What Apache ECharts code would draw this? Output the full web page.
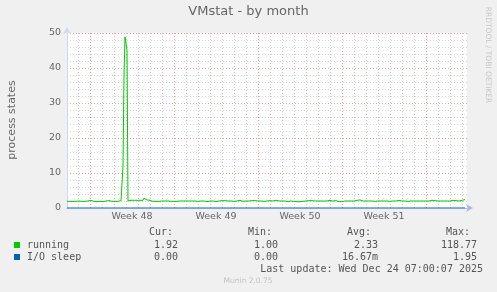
<!DOCTYPE html>
<html>
<head>
<meta charset="utf-8">
<script src="https://cdn.jsdelivr.net/npm/echarts@6/dist/echarts.min.js"></script>
<style>
html,body{margin:0;padding:0;background:#f0f0f0;}
#c{width:497px;height:292px;}
</style>
</head>
<body>
<div id="c"></div>
<script>
// ---- data ----
const startHour = -46;   // hours relative to Mon Nov 24 00:00 (start of Week 48)
const endHour = 754;
const stepHours = 2;
const weekLabels = ['Week 48', 'Week 49', 'Week 50', 'Week 51'];
const yTicks = [0, 10, 20, 30, 40, 50];
const running = [
1.9,1.8,2.0,1.9,1.9,2.1,1.9,1.8,2.0,1.9,1.9,1.9,2.0,1.9,1.8,1.9,2.2,1.9,1.9,1.8,
1.9,2.0,1.9,1.9,2.2,1.9,1.8,1.9,1.9,2.0,1.8,1.9,1.9,1.9,2.1,1.9,1.8,1.9,1.9,2.0,
1.9,1.9,2.1,1.9,1.8,1.9,2.0,1.9,1.9,2.2,1.9,1.9,2.0,1.9,2.1,2.0,12,38,48.9,47,
45,2.0,2.1,2.2,2.2,2.2,2.3,2.2,2.2,2.3,2.2,2.2,2.3,2.2,2.2,2.3,2.2,2.8,2.4,2.6,
2.3,2.2,2.5,2.2,2.1,1.8,1.9,2.0,2.0,1.9,2.0,2.2,1.9,1.9,2.0,2.0,1.9,1.9,2.0,1.9,
2.0,2.0,1.9,2.1,1.9,2.0,2.0,1.9,2.2,2.0,1.9,1.9,2.0,2.0,1.9,2.0,2.0,1.9,2.0,2.0,
1.9,2.0,2.0,1.9,2.0,2.0,1.9,1.9,2.0,2.1,2.0,1.9,1.9,1.9,2.0,2.0,1.9,2.0,2.1,2.0,
1.8,2.0,2.1,2.0,2.1,2.0,2.0,2.1,2.0,1.8,1.9,2.1,2.0,2.0,2.2,2.1,2.4,2.0,2.1,2.0,
2.0,2.0,2.0,2.1,2.0,2.0,2.0,1.9,2.1,2.0,2.0,2.1,2.0,2.2,2.0,2.0,1.9,1.9,2.1,2.0,
2.0,2.1,2.0,2.0,1.9,2.1,2.0,2.0,2.1,2.0,2.1,2.0,2.0,2.1,2.0,2.1,2.0,1.9,2.0,2.1,
2.0,1.9,2.0,2.1,1.8,1.9,2.0,2.0,1.9,2.2,2.0,1.9,2.0,2.1,2.4,2.0,2.0,1.9,2.0,1.9,
1.8,1.8,1.9,1.9,2.0,1.9,1.8,1.9,1.9,1.9,1.8,2.0,1.9,1.8,1.8,1.9,1.9,2.0,2.0,2.0,
2.0,2.0,2.1,2.0,2.0,2.1,2.0,2.0,2.0,2.1,2.0,2.0,2.2,2.0,2.0,2.1,2.0,2.0,2.1,2.0,
2.0,2.1,2.0,2.2,2.0,1.9,2.0,1.9,2.0,2.1,2.0,2.0,1.8,2.0,1.9,1.8,2.2,2.3,2.0,1.9,
2.0,2.0,1.9,1.9,2.0,1.8,2.1,2.0,2.0,2.1,2.2,2.1,2.0,2.3,2.1,2.0,2.0,2.2,2.1,2.0,
2.0,1.9,2.0,2.0,2.1,2.0,2.1,2.0,1.9,2.0,2.0,2.0,2.0,1.9,2.0,2.0,2.1,2.0,2.0,1.9,
2.0,2.0,1.9,1.9,2.0,2.0,2.0,2.1,2.0,2.0,2.0,2.1,2.2,2.0,2.0,2.0,2.0,2.1,2.0,2.0,
2.0,1.9,1.9,2.0,2.0,1.9,2.0,2.0,2.0,1.9,2.0,2.0,2.1,2.0,2.0,1.9,2.0,2.0,1.9,2.0,
2.0,2.1,2.0,1.9,2.0,2.2,2.0,2.0,2.1,2.0,2.3,2.0,2.0,2.1,2.0,2.1,1.9,2.0,2.0,2.1,
2.0,2.0,2.3,2.0,2.1,2.0,2.2,2.0,2.0,2.1,2.0,1.9,2.0,2.3,2.0,2.2,1.8,2.0,2.4
];
const ioSleep = running.map(() => 0);
const legendNames = ['running', 'I/O sleep'];
const legendColors = ['#00cc00', '#0066b3'];
const curVals = ['1.92', '0.00'];
const minVals = ['1.00', '0.00'];
const avgVals = ['2.33', '16.67m'];
const maxVals = ['118.77', '1.95'];
const lastUpdate = 'Last update: Wed Dec 24 07:00:07 2025';

// ---- chart ----
const toXY = arr => arr.map((v, i) => [startHour + i * stepHours, v]);
const chart = echarts.init(document.getElementById('c'));
const sans = 'DejaVu Sans';
const grid = {left: 67, right: 30, top: 33, bottom: 84, show: true, backgroundColor: '#ffffff', borderWidth: 0};

const hidden = {axisLine: {show: false, onZero: false}, axisTick: {show: false}, axisLabel: {show: false}};
const option = {
  backgroundColor: '#f0f0f0',
  animation: false,
  grid: grid,
  xAxis: [
    // day grid (data axis)
    Object.assign({type: 'value', position: 'bottom', min: startHour, max: endHour, minInterval: 24, maxInterval: 24,
      splitLine: {show: true, showMinLine: false, showMaxLine: false, lineStyle: {color: '#cccccc', type: [1, 2], width: 1}}}, hidden),
    // week grid
    Object.assign({type: 'value', position: 'bottom', min: startHour, max: endHour, minInterval: 168, maxInterval: 168,
      splitLine: {show: true, showMinLine: false, showMaxLine: false, lineStyle: {color: '#f2a0a0', type: [1, 2], width: 1}}}, hidden),
    // week labels (centered in each week)
    {type: 'value', position: 'bottom', min: startHour - 84, max: endHour - 84, minInterval: 168, maxInterval: 168,
      axisLine: {show: true, onZero: false, lineStyle: {color: '#a9b8ea'}, symbol: ['none', 'arrow'], symbolSize: [6, 7], symbolOffset: [0, 6]},
      axisTick: {show: false}, splitLine: {show: false},
      axisLabel: {show: true, margin: 4, color: '#666666', fontFamily: sans, fontSize: 9.5,
        showMinLabel: false, showMaxLabel: false,
        formatter: v => { const k = Math.round(v / 168); return (Math.abs(v - k * 168) < 1e-6 && weekLabels[k]) ? weekLabels[k] : ''; }}}
  ],
  yAxis: [
    Object.assign({type: 'value', position: 'left', min: 0, max: 50, interval: 2,
      splitLine: {show: true, lineStyle: {color: '#d4d4d4', type: [1, 2], width: 1}}}, hidden),
    {type: 'value', position: 'left', min: 0, max: 50, interval: 10,
      axisLine: {show: true, onZero: false, lineStyle: {color: '#cfd6f8'}, symbol: ['none', 'arrow'], symbolSize: [6, 7], symbolOffset: [0, 6]},
      axisTick: {show: false},
      splitLine: {show: true, lineStyle: {color: '#f2a0a0', type: [1, 2], width: 1}},
      axisLabel: {show: true, margin: 6, color: '#666666', fontFamily: sans, fontSize: 9.5,
        formatter: v => yTicks.includes(v) ? String(v) : ''}}
  ],
  series: [
    {type: 'line', name: legendNames[1], xAxisIndex: 0, yAxisIndex: 0, data: toXY(ioSleep),
      showSymbol: false, symbol: 'none', lineStyle: {color: legendColors[1], width: 1}, z: 1},
    {type: 'line', name: legendNames[0], xAxisIndex: 0, yAxisIndex: 0, data: toXY(running),
      showSymbol: false, symbol: 'none', lineStyle: {color: legendColors[0], width: 1}, z: 2}
  ],
  graphic: []
};

const g = option.graphic;
g.push({type: 'text', left: 'center', top: 5, style: {text: 'VMstat - by month', font: '13px "DejaVu Sans"', fill: '#666666'}});
g.push({type: 'text', x: 12, y: 120, rotation: Math.PI / 2,
  style: {text: 'process states', font: '11px "DejaVu Sans"', fill: '#666666', align: 'center', verticalAlign: 'middle'}});
g.push({type: 'text', x: 488, y: 55, rotation: -Math.PI / 2,
  style: {text: 'RRDTOOL / TOBI OETIKER', font: '7.5px "DejaVu Sans"', fill: '#c8c8c8', align: 'center', verticalAlign: 'middle'}});

const monoFont = '10px "DejaVu Sans Mono"';
const txtColor = '#555555';
const colsRight = [[173, 'Cur:'], [272, 'Min:'], [371, 'Avg:'], [470, 'Max:']];
colsRight.forEach(([x, t]) => g.push({type: 'text', x: x, y: 232, style: {text: t, font: monoFont, fill: txtColor, align: 'right', verticalAlign: 'middle'}}));
const rowsY = [245, 257];
legendNames.forEach((name, r) => {
  const y = rowsY[r];
  g.push({type: 'rect', shape: {x: 14, y: y - 3, width: 6, height: 6}, style: {fill: legendColors[r]}});
  g.push({type: 'text', x: 27, y: y, style: {text: name, font: monoFont, fill: txtColor, verticalAlign: 'middle'}});
  [[178, curVals], [278, minVals], [378, avgVals], [477, maxVals]].forEach(([x, arr]) =>
    g.push({type: 'text', x: x, y: y, style: {text: arr[r], font: monoFont, fill: txtColor, align: 'right', verticalAlign: 'middle'}}));
});
g.push({type: 'text', x: 483, y: 269, style: {text: lastUpdate, font: monoFont, fill: txtColor, align: 'right', verticalAlign: 'middle'}});
g.push({type: 'text', x: 248, y: 281, style: {text: 'Munin 2.0.75', font: '7.5px "DejaVu Sans"', fill: '#c4c4c4', align: 'center', verticalAlign: 'middle'}});

chart.setOption(option);
</script>
</body>
</html>
